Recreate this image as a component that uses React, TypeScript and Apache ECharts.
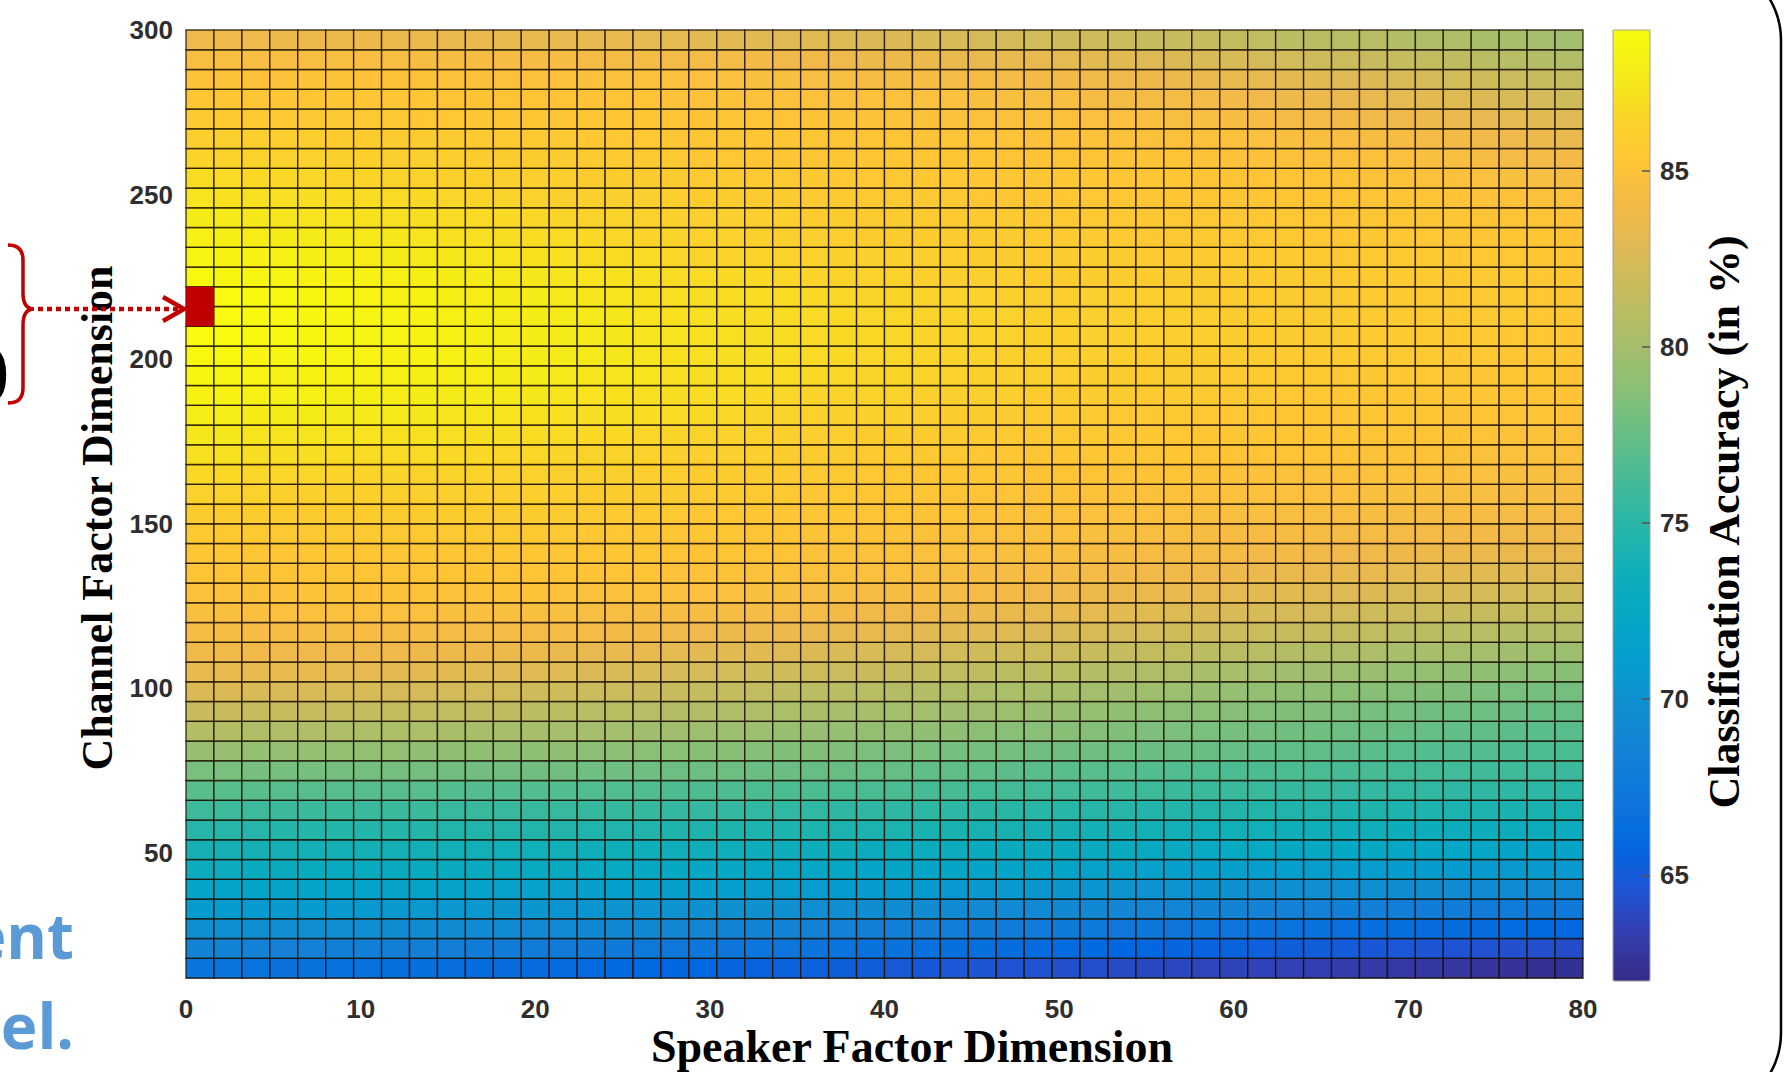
import React, { useEffect, useRef } from 'react';
import * as echarts from 'echarts';

// ---- Data -------------------------------------------------------------
// Cell edges of the speaker-factor (x) axis: 50 cells from 0 to 80
const speakerEdges = [
  0, 1.6, 3.2, 4.8, 6.4, 8, 9.6, 11.2, 12.8, 14.4, 16, 17.6, 19.2, 20.8, 22.4, 24, 25.6,
  27.2, 28.8, 30.4, 32, 33.6, 35.2, 36.8, 38.4, 40, 41.6, 43.2, 44.8, 46.4, 48, 49.6, 51.2,
  52.8, 54.4, 56, 57.6, 59.2, 60.8, 62.4, 64, 65.6, 67.2, 68.8, 70.4, 72, 73.6, 75.2, 76.8,
  78.4, 80,
];
// Cell edges of the channel-factor (y) axis: 48 cells from 12 to 300
const channelEdges = [
  12, 18, 24, 30, 36, 42, 48, 54, 60, 66, 72, 78, 84, 90, 96, 102, 108, 114, 120, 126, 132,
  138, 144, 150, 156, 162, 168, 174, 180, 186, 192, 198, 204, 210, 216, 222, 228, 234, 240,
  246, 252, 258, 264, 270, 276, 282, 288, 294, 300,
];
// Classification accuracy (%), one row per channel cell, bottom row first
const accuracy: number[][] = [
  [67.0,67.0,66.9,66.8,66.8,66.7,66.7,66.6,66.6,66.5,66.4,66.4,66.3,66.2,66.1,66.1,66.0,65.9,65.8,65.7,65.6,65.5,65.4,65.3,65.2,65.0,64.9,64.8,64.7,64.6,64.5,64.4,64.3,64.1,64.0,63.9,63.8,63.7,63.6,63.5,63.4,63.3,63.1,63.0,62.9,62.8,62.7,62.6,62.4,62.4],
  [68.6,68.6,68.5,68.4,68.4,68.3,68.3,68.2,68.2,68.1,68.0,68.0,67.9,67.8,67.7,67.7,67.6,67.5,67.4,67.3,67.2,67.1,67.0,66.9,66.8,66.8,66.7,66.6,66.5,66.4,66.3,66.2,66.1,65.9,65.8,65.7,65.6,65.5,65.4,65.3,65.2,65.1,64.9,64.8,64.7,64.6,64.5,64.4,64.3,64.2],
  [69.9,69.9,69.8,69.8,69.8,69.7,69.7,69.6,69.6,69.5,69.4,69.4,69.3,69.2,69.1,69.1,69.0,68.9,68.8,68.7,68.7,68.6,68.5,68.4,68.3,68.3,68.2,68.1,68.0,67.9,67.8,67.7,67.6,67.5,67.4,67.3,67.2,67.1,67.0,66.9,66.8,66.7,66.6,66.5,66.4,66.4,66.3,66.2,66.1,66.0],
  [71.0,71.0,70.9,70.9,70.9,70.8,70.8,70.7,70.7,70.6,70.6,70.5,70.5,70.4,70.4,70.3,70.2,70.2,70.1,70.0,70.0,69.9,69.8,69.7,69.6,69.6,69.5,69.4,69.3,69.2,69.2,69.1,69.0,68.9,68.8,68.8,68.7,68.6,68.5,68.4,68.4,68.3,68.2,68.1,68.0,68.0,67.9,67.8,67.7,67.6],
  [72.1,72.1,72.0,72.0,72.0,71.9,71.9,71.8,71.8,71.7,71.7,71.6,71.6,71.6,71.5,71.5,71.4,71.4,71.3,71.3,71.2,71.1,71.1,71.0,70.9,70.9,70.8,70.7,70.7,70.6,70.5,70.5,70.4,70.3,70.2,70.2,70.1,70.0,69.9,69.9,69.8,69.7,69.7,69.6,69.6,69.5,69.4,69.4,69.3,69.2],
  [73.1,73.1,73.0,73.0,73.0,72.9,72.9,72.9,72.8,72.8,72.8,72.7,72.7,72.7,72.6,72.6,72.5,72.5,72.4,72.4,72.3,72.3,72.2,72.2,72.1,72.1,72.0,72.0,71.9,71.9,71.8,71.8,71.7,71.7,71.6,71.5,71.5,71.4,71.3,71.3,71.2,71.1,71.1,71.0,71.0,70.9,70.9,70.8,70.8,70.7],
  [74.0,74.0,74.0,73.9,73.9,73.9,73.9,73.9,73.8,73.8,73.8,73.7,73.7,73.7,73.6,73.6,73.6,73.5,73.5,73.5,73.4,73.4,73.3,73.3,73.2,73.2,73.1,73.1,73.0,73.0,72.9,72.9,72.8,72.8,72.7,72.7,72.6,72.6,72.6,72.5,72.5,72.4,72.4,72.3,72.3,72.2,72.2,72.1,72.1,72.0],
  [74.9,74.9,74.9,74.8,74.8,74.8,74.8,74.8,74.8,74.7,74.7,74.7,74.7,74.7,74.6,74.6,74.6,74.5,74.5,74.5,74.4,74.4,74.4,74.3,74.3,74.3,74.2,74.2,74.1,74.1,74.0,74.0,73.9,73.9,73.8,73.8,73.7,73.7,73.7,73.6,73.6,73.5,73.5,73.4,73.4,73.3,73.3,73.2,73.2,73.1],
  [75.9,75.9,75.9,75.8,75.8,75.8,75.8,75.8,75.8,75.7,75.7,75.7,75.7,75.7,75.6,75.6,75.6,75.5,75.5,75.5,75.4,75.4,75.4,75.3,75.3,75.3,75.2,75.2,75.1,75.1,75.0,75.0,74.9,74.9,74.8,74.8,74.7,74.7,74.7,74.6,74.6,74.5,74.5,74.4,74.4,74.3,74.3,74.2,74.2,74.1],
  [77.0,77.0,77.0,76.9,76.9,76.9,76.9,76.9,76.9,76.8,76.8,76.8,76.8,76.8,76.7,76.7,76.7,76.6,76.6,76.6,76.5,76.5,76.5,76.4,76.4,76.4,76.3,76.3,76.2,76.2,76.1,76.1,76.0,76.0,75.9,75.8,75.8,75.7,75.7,75.6,75.6,75.5,75.5,75.4,75.4,75.3,75.3,75.2,75.2,75.1],
  [78.2,78.2,78.1,78.1,78.1,78.0,78.0,78.0,78.0,77.9,77.9,77.9,77.9,77.9,77.8,77.8,77.8,77.7,77.7,77.7,77.6,77.6,77.5,77.5,77.4,77.4,77.3,77.2,77.2,77.1,77.0,77.0,76.9,76.9,76.8,76.7,76.7,76.6,76.5,76.5,76.4,76.3,76.3,76.2,76.2,76.1,76.0,76.0,75.9,75.8],
  [79.4,79.4,79.3,79.3,79.3,79.2,79.2,79.2,79.1,79.1,79.1,79.0,79.0,79.0,78.9,78.9,78.8,78.8,78.7,78.7,78.6,78.5,78.5,78.4,78.3,78.3,78.2,78.1,78.1,78.0,77.9,77.9,77.8,77.7,77.6,77.6,77.5,77.4,77.3,77.2,77.2,77.1,77.0,76.9,76.8,76.8,76.7,76.6,76.5,76.4],
  [80.6,80.6,80.5,80.5,80.5,80.4,80.4,80.3,80.3,80.2,80.2,80.1,80.1,80.0,80.0,79.9,79.8,79.8,79.7,79.6,79.6,79.5,79.4,79.3,79.2,79.2,79.1,79.0,78.9,78.8,78.8,78.7,78.6,78.5,78.4,78.3,78.2,78.1,78.0,77.9,77.8,77.7,77.6,77.5,77.4,77.3,77.2,77.1,77.0,76.9],
  [81.7,81.7,81.6,81.6,81.6,81.5,81.5,81.4,81.4,81.3,81.2,81.2,81.1,81.0,80.9,80.9,80.8,80.7,80.6,80.5,80.4,80.3,80.2,80.1,80.1,79.9,79.9,79.8,79.7,79.6,79.5,79.4,79.3,79.1,79.0,78.9,78.8,78.7,78.6,78.5,78.4,78.3,78.1,78.0,77.9,77.8,77.7,77.6,77.5,77.4],
  [82.7,82.7,82.6,82.6,82.6,82.5,82.5,82.4,82.4,82.3,82.2,82.2,82.1,82.0,81.9,81.8,81.7,81.6,81.5,81.4,81.3,81.2,81.1,81.0,80.9,80.7,80.6,80.5,80.4,80.3,80.2,80.1,79.9,79.8,79.7,79.6,79.4,79.3,79.2,79.1,79.0,78.9,78.7,78.6,78.5,78.4,78.3,78.2,78.1,78.0],
  [83.4,83.4,83.3,83.3,83.3,83.2,83.2,83.1,83.1,83.0,83.0,82.9,82.9,82.8,82.7,82.6,82.5,82.4,82.3,82.2,82.1,82.0,81.9,81.8,81.7,81.5,81.4,81.3,81.2,81.1,81.0,80.9,80.7,80.6,80.5,80.4,80.2,80.1,80.0,79.8,79.7,79.6,79.5,79.3,79.2,79.1,79.0,78.9,78.8,78.7],
  [83.9,83.9,83.9,83.8,83.8,83.8,83.8,83.8,83.7,83.7,83.7,83.6,83.6,83.5,83.4,83.4,83.3,83.2,83.1,83.0,83.0,82.9,82.7,82.6,82.5,82.4,82.3,82.2,82.1,82.0,81.9,81.8,81.6,81.5,81.4,81.3,81.1,81.0,80.9,80.7,80.6,80.5,80.4,80.2,80.1,80.0,79.9,79.8,79.6,79.6],
  [84.3,84.3,84.3,84.3,84.3,84.3,84.3,84.3,84.3,84.2,84.2,84.2,84.2,84.1,84.1,84.0,84.0,83.9,83.8,83.7,83.7,83.6,83.5,83.4,83.3,83.2,83.1,83.0,82.9,82.8,82.7,82.6,82.5,82.3,82.2,82.1,82.0,81.9,81.8,81.6,81.5,81.4,81.3,81.1,81.0,80.9,80.8,80.7,80.6,80.5],
  [84.6,84.6,84.6,84.7,84.7,84.7,84.7,84.7,84.7,84.6,84.6,84.6,84.6,84.6,84.5,84.5,84.4,84.4,84.3,84.3,84.2,84.1,84.1,84.0,83.9,83.9,83.8,83.7,83.6,83.5,83.4,83.3,83.2,83.1,83.0,82.8,82.7,82.6,82.5,82.4,82.3,82.2,82.0,81.9,81.8,81.7,81.6,81.5,81.4,81.3],
  [84.9,84.9,84.9,85.0,85.0,85.0,85.0,85.0,85.0,85.0,85.0,85.0,85.0,85.0,84.9,84.9,84.8,84.8,84.7,84.7,84.6,84.6,84.5,84.5,84.4,84.4,84.3,84.2,84.1,84.0,83.9,83.8,83.7,83.6,83.5,83.4,83.3,83.2,83.1,83.0,82.9,82.8,82.7,82.6,82.5,82.5,82.4,82.3,82.2,82.1],
  [85.1,85.1,85.1,85.2,85.2,85.2,85.2,85.2,85.2,85.2,85.2,85.2,85.2,85.2,85.1,85.1,85.1,85.0,85.0,85.0,84.9,84.9,84.8,84.8,84.7,84.7,84.6,84.5,84.4,84.3,84.3,84.2,84.1,84.0,83.9,83.9,83.8,83.7,83.6,83.5,83.5,83.4,83.3,83.2,83.2,83.1,83.0,83.0,82.9,82.8],
  [85.3,85.3,85.3,85.4,85.4,85.4,85.4,85.4,85.4,85.4,85.4,85.4,85.4,85.4,85.3,85.3,85.3,85.2,85.2,85.2,85.1,85.1,85.0,85.0,84.9,84.9,84.8,84.7,84.7,84.6,84.6,84.5,84.4,84.4,84.3,84.2,84.2,84.1,84.0,84.0,83.9,83.8,83.8,83.7,83.7,83.6,83.6,83.5,83.5,83.4],
  [85.6,85.6,85.6,85.6,85.6,85.6,85.6,85.6,85.6,85.6,85.6,85.6,85.6,85.6,85.5,85.5,85.4,85.4,85.3,85.3,85.2,85.2,85.1,85.1,85.0,85.0,84.9,84.9,84.8,84.8,84.7,84.7,84.6,84.6,84.5,84.5,84.4,84.4,84.4,84.3,84.3,84.2,84.2,84.1,84.1,84.0,84.0,83.9,83.9,83.8],
  [85.9,85.9,85.9,85.9,85.9,85.9,85.9,85.9,85.9,85.9,85.8,85.8,85.8,85.8,85.7,85.7,85.6,85.6,85.5,85.5,85.4,85.4,85.3,85.3,85.2,85.2,85.1,85.1,85.0,85.0,84.9,84.9,84.8,84.8,84.7,84.7,84.6,84.6,84.6,84.5,84.5,84.5,84.4,84.4,84.4,84.3,84.3,84.2,84.2,84.1],
  [86.3,86.3,86.3,86.2,86.2,86.2,86.2,86.2,86.1,86.1,86.1,86.0,86.0,86.0,85.9,85.9,85.8,85.8,85.7,85.7,85.6,85.6,85.5,85.5,85.4,85.4,85.3,85.2,85.2,85.1,85.0,85.0,85.0,84.9,84.9,84.9,84.8,84.8,84.8,84.7,84.7,84.7,84.6,84.6,84.6,84.5,84.5,84.4,84.4,84.3],
  [86.7,86.7,86.6,86.6,86.6,86.5,86.5,86.5,86.4,86.4,86.4,86.3,86.3,86.2,86.2,86.1,86.0,86.0,85.9,85.9,85.8,85.7,85.7,85.6,85.5,85.5,85.4,85.4,85.3,85.3,85.2,85.2,85.2,85.1,85.1,85.1,85.0,85.0,85.0,84.9,84.9,84.9,84.8,84.8,84.8,84.7,84.7,84.6,84.6,84.5],
  [87.1,87.1,87.0,87.0,87.0,86.9,86.9,86.8,86.8,86.7,86.7,86.6,86.6,86.5,86.4,86.4,86.3,86.2,86.1,86.1,86.0,85.9,85.9,85.8,85.7,85.7,85.6,85.6,85.5,85.5,85.4,85.4,85.4,85.3,85.3,85.3,85.2,85.2,85.2,85.1,85.1,85.1,85.0,85.0,85.0,84.9,84.9,84.8,84.8,84.7],
  [87.5,87.5,87.4,87.4,87.4,87.3,87.3,87.2,87.2,87.1,87.0,87.0,86.9,86.8,86.7,86.7,86.6,86.5,86.4,86.3,86.3,86.2,86.1,86.0,85.9,85.9,85.8,85.8,85.7,85.7,85.6,85.6,85.6,85.5,85.5,85.5,85.4,85.4,85.4,85.3,85.3,85.3,85.2,85.2,85.2,85.1,85.1,85.0,85.0,84.9],
  [87.9,87.9,87.8,87.8,87.8,87.7,87.7,87.6,87.5,87.4,87.4,87.3,87.2,87.1,87.0,87.0,86.9,86.8,86.7,86.6,86.5,86.4,86.3,86.2,86.2,86.1,86.0,85.9,85.9,85.8,85.7,85.7,85.7,85.6,85.6,85.6,85.5,85.5,85.5,85.4,85.4,85.4,85.3,85.3,85.3,85.2,85.2,85.1,85.1,85.0],
  [88.2,88.2,88.1,88.1,88.1,88.0,88.0,87.9,87.8,87.7,87.7,87.6,87.5,87.4,87.3,87.2,87.1,87.0,86.9,86.8,86.7,86.6,86.5,86.4,86.4,86.3,86.2,86.1,86.1,86.0,85.9,85.9,85.8,85.8,85.7,85.7,85.6,85.6,85.6,85.5,85.5,85.5,85.4,85.4,85.4,85.3,85.3,85.2,85.2,85.1],
  [88.5,88.4,88.4,88.3,88.3,88.2,88.2,88.1,88.0,87.9,87.9,87.8,87.7,87.6,87.5,87.4,87.3,87.1,87.0,86.9,86.9,86.8,86.7,86.6,86.5,86.5,86.4,86.3,86.2,86.1,86.1,86.0,85.9,85.9,85.8,85.8,85.8,85.7,85.7,85.6,85.6,85.6,85.5,85.5,85.5,85.4,85.4,85.3,85.3,85.2],
  [88.7,88.7,88.6,88.5,88.5,88.4,88.4,88.3,88.2,88.1,88.0,87.9,87.8,87.7,87.6,87.5,87.4,87.2,87.1,87.0,87.0,86.9,86.8,86.7,86.6,86.6,86.5,86.4,86.3,86.2,86.2,86.1,86.0,86.0,85.9,85.9,85.9,85.8,85.8,85.7,85.7,85.7,85.6,85.6,85.6,85.5,85.5,85.4,85.4,85.3],
  [88.9,88.9,88.7,88.7,88.6,88.5,88.5,88.4,88.3,88.1,88.0,87.9,87.8,87.7,87.6,87.5,87.4,87.3,87.2,87.1,87.0,86.9,86.8,86.7,86.7,86.6,86.5,86.4,86.4,86.3,86.2,86.2,86.1,86.1,86.0,86.0,86.0,85.9,85.9,85.8,85.8,85.8,85.7,85.7,85.7,85.6,85.6,85.5,85.5,85.4],
  [89.0,88.9,88.8,88.7,88.6,88.6,88.5,88.4,88.3,88.1,88.0,87.9,87.8,87.7,87.6,87.5,87.3,87.2,87.1,87.0,86.9,86.9,86.8,86.7,86.6,86.6,86.5,86.4,86.4,86.3,86.2,86.2,86.1,86.1,86.0,86.0,86.0,85.9,85.9,85.8,85.8,85.8,85.7,85.7,85.7,85.6,85.6,85.6,85.5,85.5],
  [89.0,88.9,88.8,88.7,88.6,88.5,88.4,88.3,88.2,88.0,87.9,87.8,87.7,87.6,87.5,87.4,87.2,87.1,87.0,86.9,86.9,86.8,86.7,86.6,86.5,86.5,86.4,86.3,86.3,86.2,86.1,86.1,86.1,86.0,86.0,86.0,85.9,85.9,85.9,85.8,85.8,85.8,85.7,85.7,85.7,85.6,85.6,85.6,85.5,85.5],
  [88.7,88.6,88.5,88.4,88.3,88.3,88.2,88.1,88.0,87.8,87.7,87.6,87.5,87.4,87.3,87.2,87.1,86.9,86.8,86.7,86.7,86.6,86.5,86.4,86.3,86.3,86.2,86.1,86.1,86.0,85.9,85.9,85.9,85.9,85.9,85.8,85.8,85.8,85.8,85.8,85.8,85.7,85.7,85.7,85.7,85.6,85.6,85.6,85.5,85.5],
  [88.4,88.3,88.2,88.1,88.0,88.0,87.9,87.8,87.6,87.5,87.4,87.3,87.2,87.1,86.9,86.9,86.8,86.6,86.5,86.5,86.4,86.3,86.3,86.2,86.1,86.1,86.0,86.0,85.9,85.9,85.8,85.8,85.8,85.8,85.7,85.7,85.7,85.7,85.7,85.7,85.6,85.6,85.6,85.6,85.6,85.5,85.5,85.5,85.4,85.4],
  [88.1,88.0,87.9,87.8,87.7,87.7,87.6,87.5,87.4,87.2,87.1,87.0,86.9,86.8,86.7,86.6,86.5,86.4,86.3,86.3,86.2,86.1,86.1,86.0,85.9,85.9,85.9,85.8,85.8,85.8,85.7,85.7,85.7,85.7,85.6,85.6,85.6,85.6,85.6,85.6,85.5,85.5,85.5,85.5,85.5,85.4,85.4,85.3,85.3,85.2],
  [87.7,87.6,87.5,87.4,87.3,87.3,87.2,87.1,87.0,86.9,86.8,86.7,86.6,86.5,86.4,86.4,86.3,86.2,86.1,86.1,86.0,86.0,85.9,85.9,85.8,85.8,85.8,85.7,85.7,85.7,85.6,85.6,85.6,85.6,85.5,85.5,85.5,85.5,85.5,85.5,85.5,85.4,85.4,85.4,85.4,85.3,85.2,85.2,85.1,85.0],
  [87.3,87.2,87.1,87.1,87.0,86.9,86.9,86.8,86.7,86.6,86.5,86.4,86.3,86.2,86.2,86.1,86.1,86.0,85.9,85.9,85.8,85.8,85.7,85.7,85.6,85.6,85.6,85.6,85.5,85.5,85.5,85.5,85.5,85.5,85.4,85.4,85.4,85.4,85.4,85.3,85.3,85.3,85.2,85.2,85.2,85.1,85.0,85.0,84.9,84.8],
  [86.9,86.8,86.7,86.7,86.6,86.5,86.5,86.4,86.3,86.2,86.2,86.1,86.0,86.0,85.9,85.9,85.8,85.8,85.7,85.7,85.6,85.6,85.6,85.5,85.5,85.5,85.5,85.5,85.4,85.4,85.4,85.4,85.4,85.3,85.3,85.3,85.2,85.2,85.2,85.1,85.1,85.1,85.0,85.0,84.9,84.8,84.7,84.6,84.5,84.4],
  [86.5,86.4,86.4,86.3,86.3,86.2,86.2,86.1,86.1,86.0,85.9,85.9,85.8,85.8,85.7,85.7,85.6,85.6,85.5,85.5,85.4,85.4,85.4,85.3,85.3,85.3,85.3,85.3,85.3,85.2,85.2,85.2,85.2,85.1,85.1,85.1,85.0,85.0,85.0,84.9,84.9,84.8,84.8,84.7,84.6,84.5,84.3,84.2,84.1,84.0],
  [86.1,86.1,86.0,86.0,86.0,85.9,85.9,85.8,85.8,85.8,85.7,85.7,85.6,85.6,85.5,85.5,85.5,85.4,85.4,85.4,85.3,85.3,85.3,85.2,85.2,85.2,85.1,85.1,85.1,85.1,85.0,85.0,85.0,84.9,84.9,84.9,84.8,84.8,84.7,84.6,84.6,84.5,84.4,84.3,84.2,84.0,83.9,83.8,83.6,83.5],
  [85.7,85.7,85.7,85.6,85.6,85.6,85.6,85.6,85.5,85.5,85.5,85.4,85.4,85.4,85.3,85.3,85.3,85.2,85.2,85.2,85.1,85.1,85.1,85.0,85.0,85.0,84.9,84.9,84.9,84.9,84.8,84.8,84.7,84.7,84.6,84.5,84.5,84.4,84.3,84.2,84.1,84.0,83.9,83.8,83.7,83.5,83.4,83.2,83.0,82.9],
  [85.4,85.4,85.4,85.3,85.3,85.3,85.3,85.3,85.3,85.2,85.2,85.2,85.2,85.2,85.1,85.1,85.1,85.0,85.0,85.0,84.9,84.9,84.9,84.8,84.8,84.8,84.7,84.7,84.6,84.6,84.5,84.5,84.4,84.3,84.2,84.2,84.1,84.0,83.9,83.7,83.6,83.5,83.4,83.2,83.1,82.9,82.7,82.5,82.3,82.1],
  [85.0,85.0,85.0,85.0,85.0,85.0,85.0,85.0,85.0,84.9,84.9,84.9,84.9,84.9,84.8,84.8,84.8,84.7,84.7,84.7,84.6,84.6,84.5,84.5,84.4,84.4,84.3,84.2,84.2,84.1,84.0,84.0,83.9,83.8,83.7,83.6,83.5,83.4,83.3,83.1,83.0,82.8,82.7,82.5,82.4,82.2,82.0,81.8,81.6,81.4],
  [84.5,84.5,84.5,84.5,84.5,84.5,84.5,84.5,84.4,84.4,84.4,84.3,84.3,84.3,84.2,84.2,84.2,84.1,84.1,84.1,84.0,83.9,83.9,83.8,83.7,83.7,83.6,83.5,83.4,83.3,83.3,83.2,83.1,83.0,82.8,82.7,82.6,82.5,82.3,82.2,82.0,81.9,81.7,81.5,81.4,81.2,81.0,80.8,80.7,80.5],
  [83.8,83.8,83.8,83.7,83.7,83.7,83.7,83.6,83.6,83.5,83.5,83.4,83.4,83.4,83.3,83.3,83.2,83.2,83.1,83.1,83.0,82.9,82.9,82.8,82.7,82.7,82.6,82.5,82.4,82.3,82.2,82.1,82.0,81.8,81.7,81.6,81.5,81.4,81.3,81.1,81.0,80.9,80.8,80.6,80.5,80.4,80.2,80.1,79.9,79.9],
];
const xTicks = [0, 10, 20, 30, 40, 50, 60, 70, 80];
const yTicks = [50, 100, 150, 200, 250, 300];
const colorbarTicks = [65, 70, 75, 80, 85];
const accuracyMin = 62;
const accuracyMax = 89;
// Highlighted best configuration (red cell)
const bestSpeaker = [0, 1.6];
const bestChannel = [210, 222];

// MATLAB parula colormap (every third entry of the 64-entry table)
const parula = [
  '#352a87', '#353dad', '#2053d4', '#0268e1', '#0d75dc', '#1481d6', '#108ed2', '#079ccf',
  '#06a7c6', '#0faeb9', '#25b5a9', '#42bb98', '#65be86', '#87bf77', '#a5be6b', '#c0bc60',
  '#d9ba56', '#f1b94a', '#ffc337', '#fad32a', '#f5eb18', '#f9fb0e',
];

echarts.graphic.registerShape(
  'brace',
  echarts.graphic.extendPath(
    'M8,245 Q23,245 23,260 L23,293 Q23,309 34,309 Q23,309 23,325 L23,388 Q23,403 8,403',
    {}
  )
);

const tickFont = {
  fontSize: 26,
  fontWeight: 'bold' as const,
  color: '#2e2e2e',
  fontFamily: '"Liberation Sans", Arial, sans-serif',
};
const titleFont = {
  fontSize: 44,
  fontWeight: 'bold' as const,
  fontFamily: '"Liberation Serif", "Times New Roman", serif',
  fill: '#000',
};

export default function App() {
  const ref = useRef<HTMLDivElement>(null);
  useEffect(() => {
    if (!ref.current) return;
    const chart = echarts.init(ref.current, undefined, { renderer: 'svg' });
    const cells: number[][] = [];
    accuracy.forEach((row, r) => {
      row.forEach((v, c) => {
        cells.push([speakerEdges[c], speakerEdges[c + 1], channelEdges[r], channelEdges[r + 1], v]);
      });
    });
    const rectItem = (fill: any, stroke: any, lw: number) => (params: any, api: any) => {
      const p0 = api.coord([api.value(0), api.value(3)]);
      const p1 = api.coord([api.value(1), api.value(2)]);
      return {
        type: 'rect',
        shape: { x: p0[0], y: p0[1], width: p1[0] - p0[0], height: p1[1] - p0[1] },
        style: { fill: fill ?? api.visual('color'), stroke, lineWidth: lw },
      };
    };
    chart.setOption({
      animation: false,
      backgroundColor: '#ffffff',
      grid: [
        { left: 186, top: 30, width: 1397, height: 948, show: false },
        { left: 1613, top: 30, width: 37, height: 951, show: false },
      ],
      xAxis: [
        {
          type: 'value', gridIndex: 0, min: 0, max: 80, interval: 10,
          axisLine: { show: true, onZero: false, lineStyle: { color: '#9a9a9a', width: 1 } },
          axisTick: { show: false }, splitLine: { show: false },
          axisLabel: { ...tickFont, margin: 18, customValues: xTicks },
        },
        { type: 'value', gridIndex: 1, min: 0, max: 1, show: false },
      ],
      yAxis: [
        {
          type: 'value', gridIndex: 0, min: 12, max: 300,
          axisLine: { show: true, onZero: false, lineStyle: { color: '#9a9a9a', width: 1 } },
          axisTick: { show: false }, splitLine: { show: false },
          axisLabel: { ...tickFont, margin: 13, customValues: yTicks },
        },
        {
          type: 'value', gridIndex: 1, min: accuracyMin, max: accuracyMax, position: 'right', z: 20,
          axisLine: { show: false, onZero: false }, splitLine: { show: false },
          axisTick: { show: true, inside: true, length: 8, customValues: colorbarTicks, lineStyle: { color: '#555', width: 1.5 } },
          axisLabel: { ...tickFont, margin: 10, customValues: colorbarTicks },
        },
      ],
      visualMap: {
        type: 'continuous', min: accuracyMin, max: accuracyMax, dimension: 4, seriesIndex: 0,
        inRange: { color: parula }, left: 1613, top: 30, itemWidth: 37, itemHeight: 951,
        padding: 0, calculable: false, hoverLink: false, orient: 'vertical', z: 4,
      },
      series: [
        {
          type: 'custom', name: 'Accuracy', xAxisIndex: 0, yAxisIndex: 0,
          encode: { x: [0, 1], y: [2, 3] }, data: cells,
          renderItem: rectItem(null, 'rgba(25,15,0,0.8)', 1.4),
        },
        {
          type: 'custom', name: 'Best', xAxisIndex: 0, yAxisIndex: 0, z: 5,
          encode: { x: [0, 1], y: [2, 3] },
          data: [[bestSpeaker[0], bestSpeaker[1], bestChannel[0], bestChannel[1]]],
          renderItem: rectItem('#c00000', null, 0),
        },
      ],
      graphic: [
        { type: 'text', x: 912, y: 1046, z: 10, style: { ...titleFont, fontSize: 46, text: 'Speaker Factor Dimension', align: 'center', verticalAlign: 'middle' } },
        { type: 'text', x: 97, y: 518, rotation: Math.PI / 2, z: 10, style: { ...titleFont, text: 'Channel Factor Dimension', align: 'center', verticalAlign: 'middle' } },
        { type: 'text', x: 1724, y: 522, rotation: Math.PI / 2, z: 10, style: { ...titleFont, fontSize: 44, text: 'Classification Accuracy (in %)', align: 'center', verticalAlign: 'middle' } },
        { type: 'rect', z: 20, shape: { x: 1613, y: 30, width: 37, height: 951 }, style: { fill: 'none', stroke: '#a0a0a0', lineWidth: 1 } },
        { type: 'line', z: 30, shape: { x1: 38, y1: 309, x2: 178, y2: 309 }, style: { stroke: '#c00000', lineWidth: 4.5, lineDash: [5, 4] } },
        { type: 'polyline', z: 30, shape: { points: [[163, 297], [184, 309], [163, 321]] }, style: { stroke: '#c00000', lineWidth: 4.5, fill: 'none' } },
        { type: 'brace', z: 30, style: { fill: 'none', stroke: '#c00000', lineWidth: 3.5 } },
        { type: 'text', x: 9, y: 372, z: 30, style: { text: '0', fontSize: 76, fontWeight: 'bold', fontFamily: '"Open Sans", sans-serif', fill: '#000', align: 'right', verticalAlign: 'middle' } },
        { type: 'text', x: 74, y: 935, z: 30, style: { text: 'ent', fontSize: 62, fontWeight: 'bold', fontFamily: '"Open Sans", sans-serif', fill: '#5b9bd5', align: 'right', verticalAlign: 'middle' } },
        { type: 'text', x: 74, y: 1025, z: 30, style: { text: 'el.', fontSize: 62, fontWeight: 'bold', fontFamily: '"Open Sans", sans-serif', fill: '#5b9bd5', align: 'right', verticalAlign: 'middle' } },
        { type: 'rect', z: 30, shape: { x: -40, y: -40, width: 1821, height: 1153, r: 80 }, style: { fill: 'none', stroke: '#000', lineWidth: 2.5 } },
      ],
    });
    return () => chart.dispose();
  }, []);
  return (
    <div
      ref={ref}
      style={{ position: 'fixed', left: 0, top: 0, width: 1788, height: 1072, background: '#fff' }}
    />
  );
}
